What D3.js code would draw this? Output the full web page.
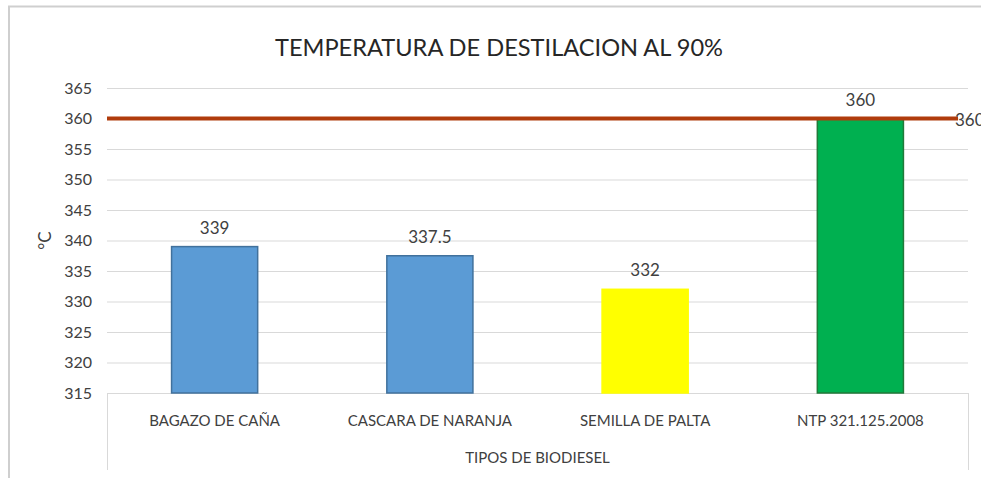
<!DOCTYPE html>
<html>
<head>
<meta charset="utf-8">
<script src="https://cdn.jsdelivr.net/npm/d3@7"></script>
<style>
  body { margin: 0; background: #fff; }
  svg { display: block; font-family: Lato, "Open Sans", sans-serif; }
</style>
</head>
<body>
<div id="chart"></div>
<script>
// data
const categories = ["BAGAZO DE CAÑA", "CASCARA DE NARANJA", "SEMILLA DE PALTA", "NTP 321.125.2008"];
const values = [339, 337.5, 332, 360];
const barColors = ["#5b9bd5", "#5b9bd5", "#ffff00", "#00b050"];
const barStrokes = ["#41719c", "#41719c", "#ffff00", "#217a3a"];
const limit = [360];
const yTicks = [315, 320, 325, 330, 335, 340, 345, 350, 355, 360, 365];

const width = 981, height = 478;
const margin = { top: 88, right: 13, bottom: 85, left: 107 };

const svg = d3.select("#chart").append("svg")
  .attr("width", width)
  .attr("height", height);

// chart frame
svg.append("rect")
  .attr("x", 9).attr("y", 6.5)
  .attr("width", width + 20).attr("height", height + 20)
  .attr("fill", "none")
  .attr("stroke", "#cfcfcf")
  .attr("stroke-width", 2);

const x = d3.scaleBand()
  .domain(categories)
  .range([margin.left, width - margin.right])
  .paddingInner(0.6)
  .paddingOuter(0.3);

const y = d3.scaleLinear()
  .domain([315, 365])
  .range([height - margin.bottom, margin.top]);

// gridlines
svg.append("g")
  .selectAll("line")
  .data(yTicks.filter(d => d > 315))
  .join("line")
  .attr("x1", x.range()[0]).attr("x2", x.range()[1])
  .attr("y1", d => y(d) + 0.5).attr("y2", d => y(d) + 0.5)
  .attr("stroke", "#d9d9d9")
  .attr("stroke-width", 1);

// y axis labels
const yAxis = svg.append("g")
  .attr("transform", `translate(${margin.left - 15},0)`)
  .call(d3.axisLeft(y).tickValues(yTicks).tickSize(0).tickPadding(0));
yAxis.select(".domain").remove();
yAxis.selectAll("text")
  .attr("font-size", 16)
  .attr("font-family", "Lato, sans-serif")
  .attr("fill", "#404040");

// category axis box
const axisBottom = y(315);
const boxBottom = 470;
svg.append("line")
  .attr("x1", x.range()[0]).attr("x2", x.range()[1])
  .attr("y1", axisBottom + 0.5).attr("y2", axisBottom + 0.5)
  .attr("stroke", "#d9d9d9");
svg.selectAll("line.edge")
  .data(x.range())
  .join("line")
  .attr("class", "edge")
  .attr("x1", d => d + 0.5).attr("x2", d => d + 0.5)
  .attr("y1", axisBottom).attr("y2", boxBottom)
  .attr("stroke", "#d9d9d9");

// bars
svg.append("g")
  .selectAll("rect")
  .data(categories)
  .join("rect")
  .attr("x", d => x(d))
  .attr("width", x.bandwidth())
  .attr("y", (d, i) => y(values[i]))
  .attr("height", (d, i) => y(315) - y(values[i]))
  .attr("fill", (d, i) => barColors[i])
  .attr("stroke", (d, i) => barStrokes[i])
  .attr("stroke-width", 1.5);

// limit line
svg.append("g")
  .selectAll("line")
  .data(limit)
  .join("line")
  .attr("x1", x.range()[0])
  .attr("x2", x.range()[1] - 10)
  .attr("y1", d => y(d)).attr("y2", d => y(d))
  .attr("stroke", "#b03c0c")
  .attr("stroke-width", 4);

svg.append("g")
  .selectAll("text")
  .data(limit)
  .join("text")
  .attr("x", x.range()[1] - 13)
  .attr("y", d => y(d) + 7)
  .attr("font-size", 17)
  .attr("fill", "#404040")
  .text(d => d);

// data labels
svg.append("g")
  .selectAll("text")
  .data(categories)
  .join("text")
  .attr("x", d => x(d) + x.bandwidth() / 2)
  .attr("y", (d, i) => y(values[i]) - 13)
  .attr("text-anchor", "middle")
  .attr("font-size", 17)
  .attr("fill", "#404040")
  .text((d, i) => values[i]);

// category labels
svg.append("g")
  .selectAll("text")
  .data(categories)
  .join("text")
  .attr("x", d => x(d) + x.bandwidth() / 2)
  .attr("y", axisBottom + 33)
  .attr("text-anchor", "middle")
  .attr("font-size", 15)
  .attr("fill", "#404040")
  .text(d => d);

// axis titles
svg.append("text")
  .attr("x", (x.range()[0] + x.range()[1]) / 2)
  .attr("y", 463)
  .attr("text-anchor", "middle")
  .attr("font-size", 15)
  .attr("fill", "#404040")
  .text("TIPOS DE BIODIESEL");

svg.append("text")
  .attr("transform", `translate(51,${(y(315) + y(365)) / 2}) rotate(-90)`)
  .attr("text-anchor", "middle")
  .attr("font-size", 17)
  .attr("fill", "#404040")
  .text("°C");

// title
svg.append("text")
  .attr("x", 499)
  .attr("y", 56)
  .attr("text-anchor", "middle")
  .attr("font-size", 23.6)
  .attr("fill", "#262626")
  .text("TEMPERATURA DE DESTILACION AL 90%");
</script>
</body>
</html>
